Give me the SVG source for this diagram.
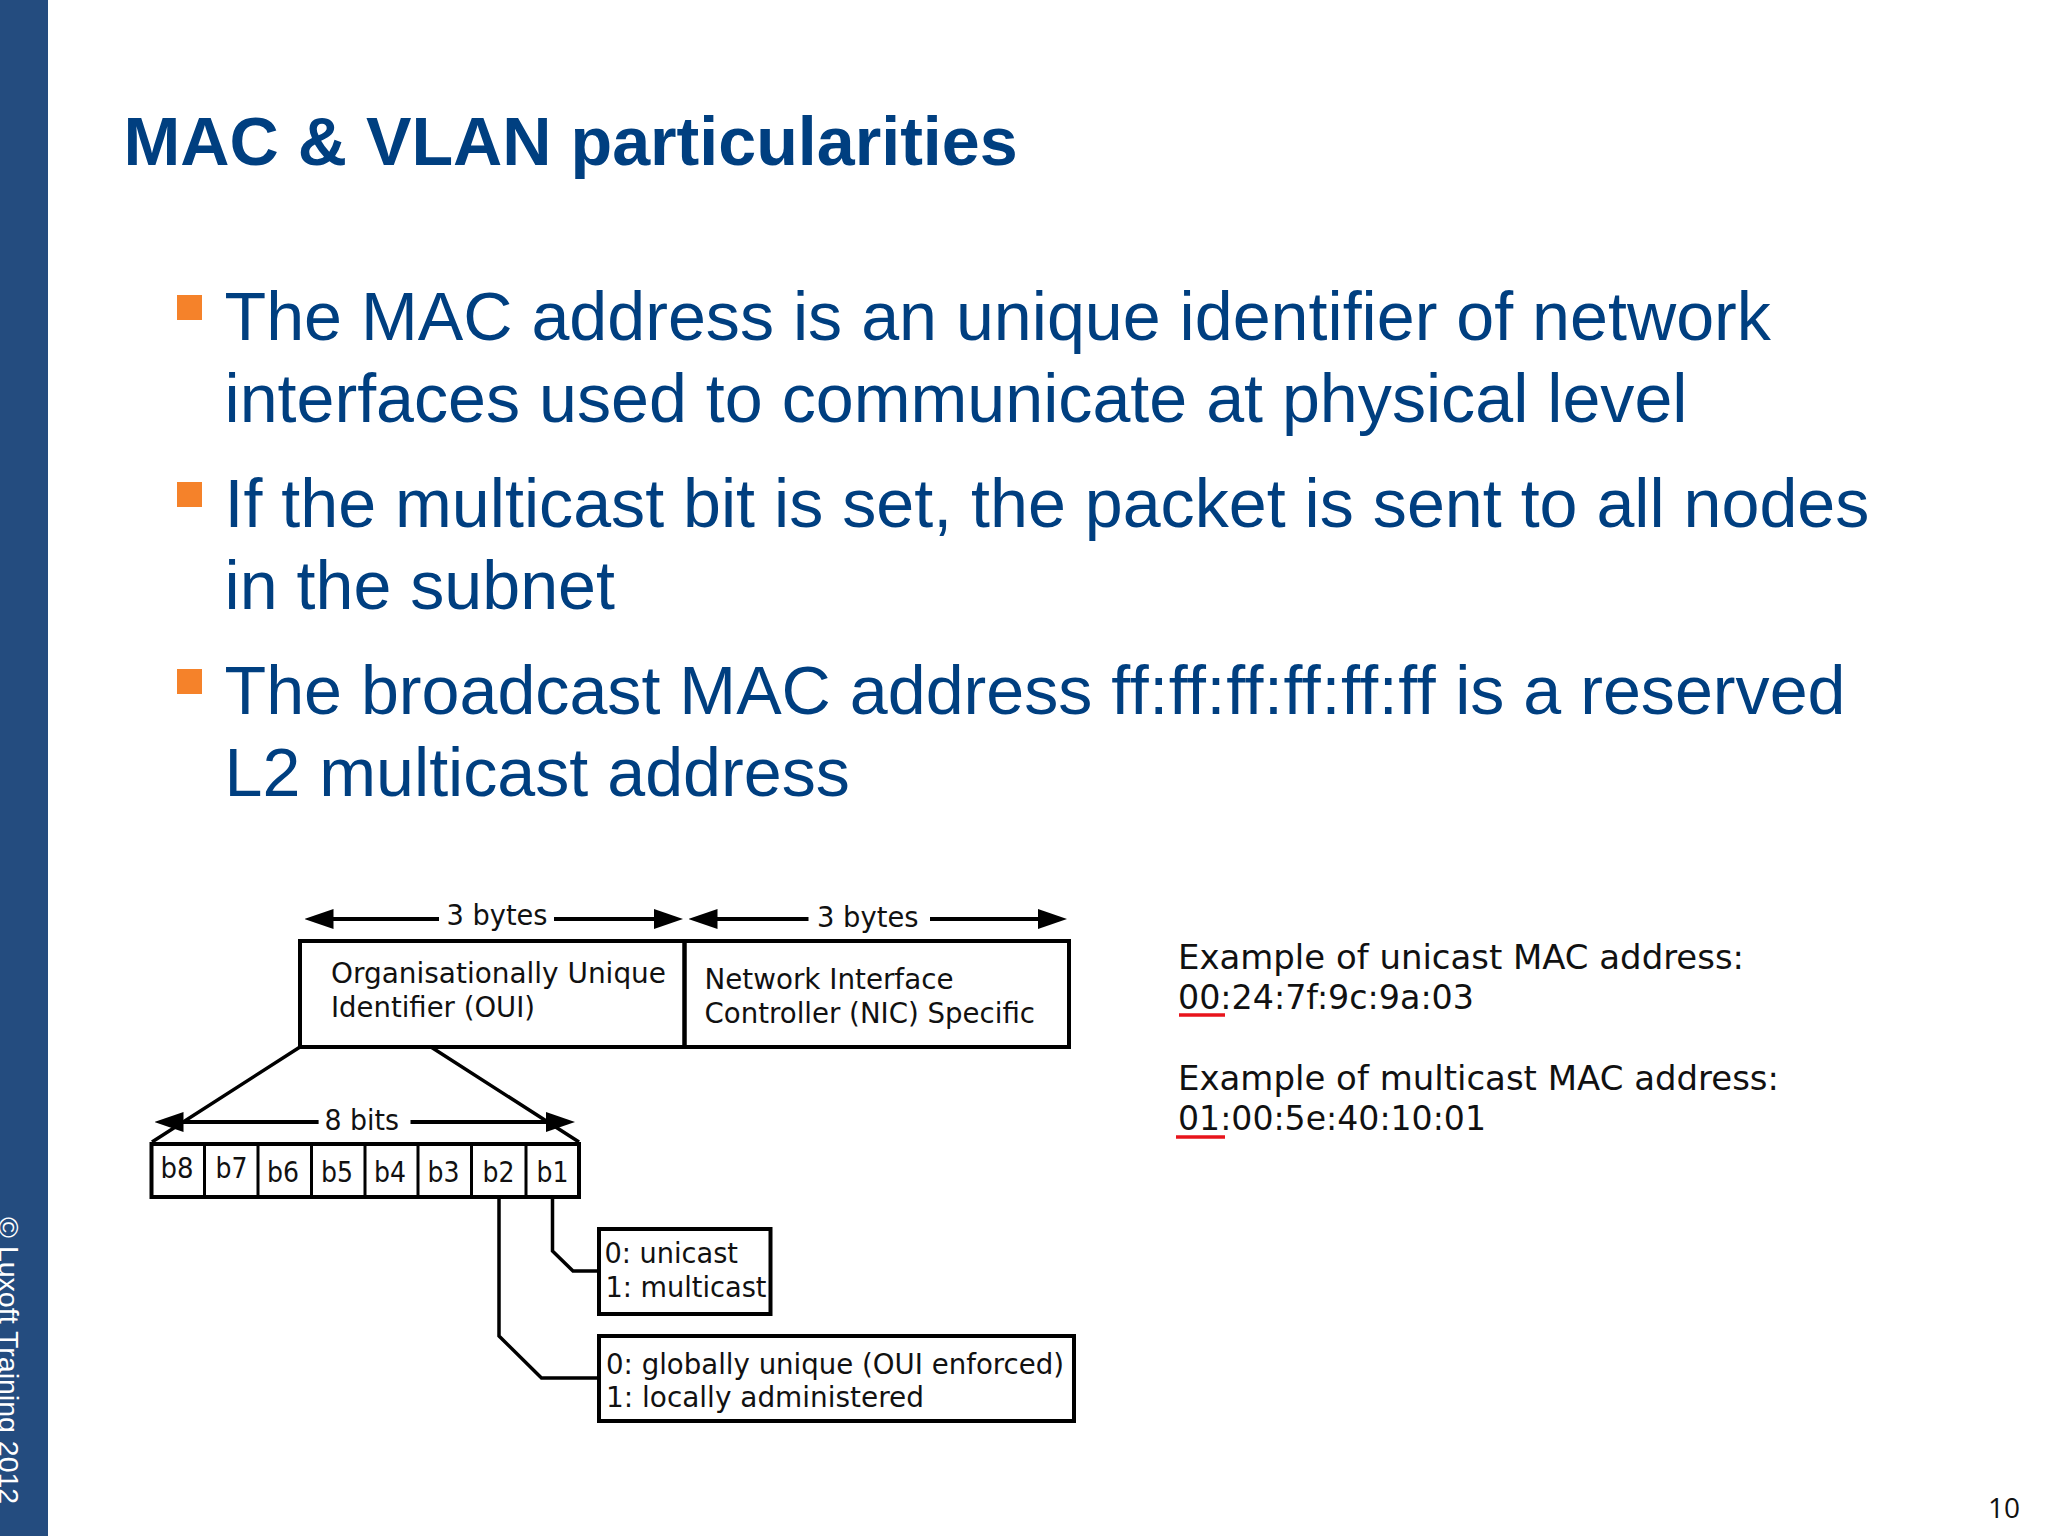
<svg xmlns="http://www.w3.org/2000/svg" width="2048" height="1536" viewBox="0 0 2048 1536">
<style>
.body{font:68.2px "Liberation Sans",Arial,sans-serif;fill:#003f80;font-variant-ligatures:none}
.d{font-family:"DejaVu Sans",sans-serif;fill:#111}
.d1{font-size:29px}
.d2{font-size:33.5px}
.box{fill:none;stroke:#000;stroke-width:4}
.sep{fill:none;stroke:#000;stroke-width:3}
.ln{fill:none;stroke:#000;stroke-width:3.5}
.ar{fill:none;stroke:#000;stroke-width:4}
.bul{fill:#f5822a}
</style>
<defs>
<marker id="ah" viewBox="0 0 29 20" refX="23" refY="10" markerWidth="29" markerHeight="20" markerUnits="userSpaceOnUse" orient="auto"><path d="M0 0L29 10L0 20Z" fill="#000"/></marker>
</defs>
<rect width="2048" height="1536" fill="#fff"/>
<g id="sidebar"><rect width="48" height="1536" fill="#244c7f"/>
<text transform="translate(-1 1217) rotate(90)" font-family="Liberation Sans,Arial,sans-serif" font-size="28.5" fill="#fff">© Luxoft Training 2012</text></g>
<text x="123.5" y="165" font-family="Liberation Sans,Arial,sans-serif" font-weight="700" font-size="68.2" fill="#003f80">MAC &amp; VLAN particularities</text>
<g id="bullets">
<rect class="bul" x="177" y="295" width="25" height="25"/>
<rect class="bul" x="177" y="482" width="25" height="25"/>
<rect class="bul" x="177" y="669" width="25" height="25"/>
<text class="body" x="224.5" y="340">The MAC address is an unique identifier of network</text>
<text class="body" x="224.5" y="422">interfaces used to communicate at physical level</text>
<text class="body" x="224.5" y="527">If the multicast bit is set, the packet is sent to all nodes</text>
<text class="body" x="224.5" y="609">in the subnet</text>
<text class="body" x="224.5" y="714">The broadcast MAC address <tspan letter-spacing="0.6">ff:ff:ff:ff:ff:ff</tspan> is a reserved</text>
<text class="body" x="224.5" y="796">L2 multicast address</text>
</g>
<g id="connectors">
<path class="ln" d="M300 1047L152 1142M431 1047L579 1142"/>
<path class="ln" d="M552.5 1197V1251L573 1271H599"/>
<path class="ln" d="M499 1197V1336L541.5 1378H599"/>
<path class="ar" d="M439 919H310.5" marker-end="url(#ah)"/>
<path class="ar" d="M554 919H677" marker-end="url(#ah)"/>
<path class="ar" d="M808.5 919H694.5" marker-end="url(#ah)"/>
<path class="ar" d="M930 919H1061" marker-end="url(#ah)"/>
<path class="ar" d="M318.6 1122H160.5" marker-end="url(#ah)"/>
<path class="ar" d="M410.5 1122H569" marker-end="url(#ah)"/>
</g>
<g id="oui"><rect class="box" x="300" y="941" width="384.5" height="106"/>
<text class="d d1" x="331" y="983" textLength="335" lengthAdjust="spacingAndGlyphs">Organisationally Unique</text><text class="d d1" x="331" y="1017" textLength="204" lengthAdjust="spacingAndGlyphs">Identifier (OUI)</text></g>
<g id="nic"><rect class="box" x="684.5" y="941" width="384.5" height="106"/>
<text class="d d1" x="704.5" y="989" textLength="249" lengthAdjust="spacingAndGlyphs">Network Interface</text><text class="d d1" x="704.5" y="1023" textLength="330.5" lengthAdjust="spacingAndGlyphs">Controller (NIC) Specific</text></g>
<g id="arrow-labels" class="d d1">
<text x="446.5" y="925" textLength="101" lengthAdjust="spacingAndGlyphs">3 bytes</text><text x="817" y="927" textLength="101.5" lengthAdjust="spacingAndGlyphs">3 bytes</text><text x="324.5" y="1130" textLength="74.5" lengthAdjust="spacingAndGlyphs">8 bits</text>
</g>
<g id="bits"><rect class="box" x="151.5" y="1144" width="427.5" height="53"/>
<path class="sep" d="M204.5 1144V1197M258 1144V1197M311.5 1144V1197M365 1144V1197M418 1144V1197M471.5 1144V1197M526 1144V1197"/>
<g class="d d1">
<text x="160.5" y="1178" textLength="33" lengthAdjust="spacingAndGlyphs">b8</text><text x="215.5" y="1178" textLength="32" lengthAdjust="spacingAndGlyphs">b7</text><text x="267" y="1182" textLength="32" lengthAdjust="spacingAndGlyphs">b6</text><text x="321" y="1182" textLength="32" lengthAdjust="spacingAndGlyphs">b5</text><text x="374" y="1182" textLength="32" lengthAdjust="spacingAndGlyphs">b4</text><text x="427.5" y="1182" textLength="32" lengthAdjust="spacingAndGlyphs">b3</text><text x="482.5" y="1182" textLength="32" lengthAdjust="spacingAndGlyphs">b2</text><text x="536.5" y="1182" textLength="32" lengthAdjust="spacingAndGlyphs">b1</text>
</g></g>
<g id="cast"><rect class="box" x="599" y="1229" width="171.5" height="85"/>
<text class="d d1" x="604.5" y="1263" textLength="133.5" lengthAdjust="spacingAndGlyphs">0: unicast</text><text class="d d1" x="605.5" y="1297" textLength="161" lengthAdjust="spacingAndGlyphs">1: multicast</text></g>
<g id="admin"><rect class="box" x="599" y="1336" width="475" height="85"/>
<text class="d d1" x="606" y="1374" textLength="458" lengthAdjust="spacingAndGlyphs">0: globally unique (OUI enforced)</text><text class="d d1" x="606" y="1407" textLength="318" lengthAdjust="spacingAndGlyphs">1: locally administered</text></g>
<g id="examples"><text class="d d2" x="1178" y="969" textLength="566" lengthAdjust="spacingAndGlyphs">Example of unicast MAC address:</text>
<text class="d d2" x="1178" y="1009" textLength="296" lengthAdjust="spacingAndGlyphs">00:24:7f:9c:9a:03</text>
<text class="d d2" x="1178" y="1090" textLength="601" lengthAdjust="spacingAndGlyphs">Example of multicast MAC address:</text>
<text class="d d2" x="1178" y="1130" textLength="308" lengthAdjust="spacingAndGlyphs">01:00:5e:40:10:01</text>
<path d="M1179 1015H1225M1176 1137H1225" stroke="#e8141c" stroke-width="3.5" fill="none"/></g>
<text x="2020" y="1518" text-anchor="end" font-family="Open Sans,sans-serif" font-size="28" fill="#111">10</text>
</svg>
